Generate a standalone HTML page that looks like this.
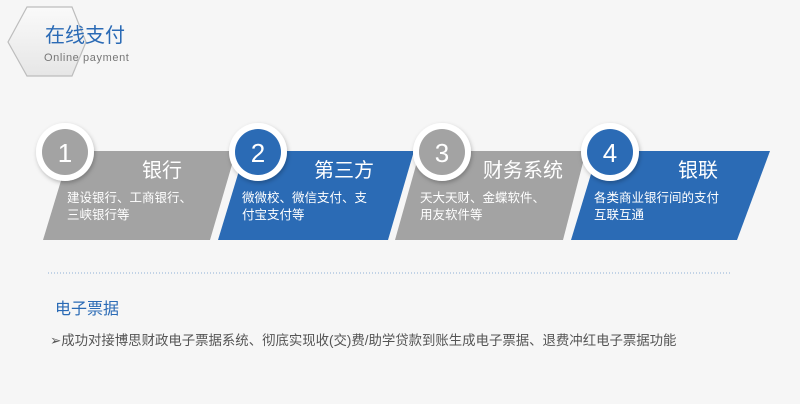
<!DOCTYPE html>
<html><head><meta charset="utf-8"><style>
body{margin:0;width:800px;height:404px;background:#f6f6f6;overflow:hidden;font-family:"Liberation Sans","Noto Sans CJK SC",sans-serif}
</style></head><body>
<svg width="800" height="404" xmlns="http://www.w3.org/2000/svg" style="position:absolute;left:0;top:0;font-family:'Liberation Sans','Noto Sans CJK SC',sans-serif">
<defs>
<filter id="sh" x="-30%" y="-30%" width="160%" height="160%"><feDropShadow dx="1" dy="2" stdDeviation="2" flood-color="#000" flood-opacity="0.25"/></filter>
<linearGradient id="hx" x1="0" y1="0" x2="0" y2="1"><stop offset="0" stop-color="#fafafa"/><stop offset="1" stop-color="#e6e6e6"/></linearGradient>
</defs>
<polygon points="27,7 72,7 86,42 72,76 27,76 8,42" fill="url(#hx)" stroke="#bdbdbd" stroke-width="1.2"/>
<text x="45" y="42" font-size="20" fill="#2a6ab5">在线支付</text>
<text x="44" y="61" font-size="11" fill="#777" letter-spacing="0.6">Online payment</text>

<polygon points="70,151 236,151 210,240 43,240" fill="#a3a3a3"/>
<polygon points="245,151 414,151 388,240 218,240" fill="#2b6bb5"/>
<polygon points="420,151 586,151 563,240 395,240" fill="#a3a3a3"/>
<polygon points="598,151 770,151 737,240 571,240" fill="#2b6bb5"/>

<g filter="url(#sh)">
<circle cx="65" cy="152" r="29" fill="#fff"/>
<circle cx="258" cy="152" r="29" fill="#fff"/>
<circle cx="442" cy="152" r="29" fill="#fff"/>
<circle cx="610" cy="152" r="29" fill="#fff"/>
</g>
<circle cx="65" cy="152" r="23" fill="#a3a3a3"/>
<circle cx="258" cy="152" r="23" fill="#2b6bb5"/>
<circle cx="442" cy="152" r="23" fill="#a3a3a3"/>
<circle cx="610" cy="152" r="23" fill="#2b6bb5"/>
<g font-size="26" fill="#fff" text-anchor="middle">
<text x="65" y="162">1</text><text x="258" y="162">2</text><text x="442" y="162">3</text><text x="610" y="162">4</text>
</g>
<g font-size="20" fill="#fff">
<text x="142" y="177">银行</text>
<text x="314" y="177">第三方</text>
<text x="483" y="177">财务系统</text>
<text x="678" y="177">银联</text>
</g>
<g font-size="12.5" fill="#fff">
<text x="67" y="202">建设银行、工商银行、</text><text x="67" y="219">三峡银行等</text>
<text x="242" y="202">微微校、微信支付、支</text><text x="242" y="219">付宝支付等</text>
<text x="420" y="202">天大天财、金蝶软件、</text><text x="420" y="219">用友软件等</text>
<text x="594" y="202">各类商业银行间的支付</text><text x="594" y="219">互联互通</text>
</g>
<line x1="48" y1="273" x2="731" y2="273" stroke="#8fb0d6" stroke-width="1" stroke-dasharray="1,2"/>
<text x="55" y="314" font-size="16" fill="#2a6ab5">电子票据</text>
<text x="50" y="345" font-size="13.4" fill="#555">➢成功对接博思财政电子票据系统、彻底实现收(交)费/助学贷款到账生成电子票据、退费冲红电子票据功能</text>
</svg>
</body></html>
